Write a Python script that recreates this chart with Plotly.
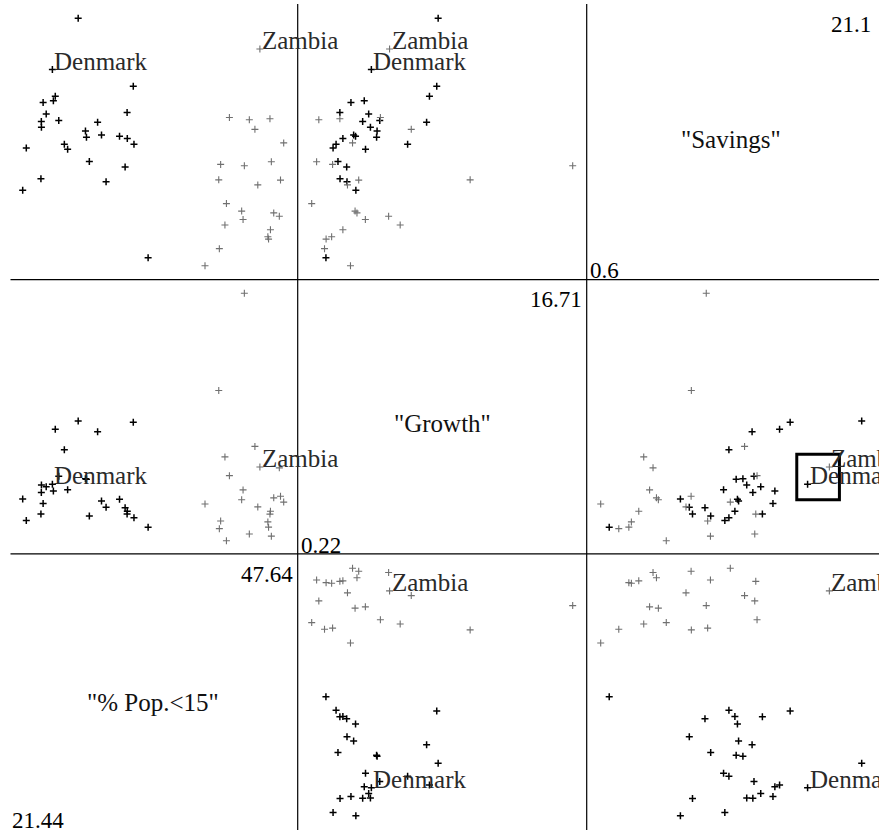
import plotly.graph_objects as go

# LifeCycleSavings: aggregate savings ratio, growth of disposable income, % population under 15
countries = [
    "Australia", "Austria", "Belgium", "Bolivia", "Brazil", "Canada", "Chile", "China",
    "Colombia", "Costa Rica", "Denmark", "Ecuador", "Finland", "France", "Germany",
    "Greece", "Guatamala", "Honduras", "Iceland", "India", "Ireland", "Italy", "Japan",
    "Korea", "Luxembourg", "Malta", "Norway", "Netherlands", "New Zealand", "Nicaragua",
    "Panama", "Paraguay", "Peru", "Philippines", "Portugal", "South Africa",
    "South Rhodesia", "Spain", "Sweden", "Switzerland", "Turkey", "Tunisia",
    "United Kingdom", "United States", "Venezuela", "Zambia", "Jamaica", "Uruguay",
    "Libya", "Malaysia",
]
savings = [
    11.43, 12.07, 13.17, 5.75, 12.88, 8.79, 0.60, 11.90, 4.98, 10.78, 16.85, 3.59,
    11.24, 12.64, 12.55, 10.67, 3.01, 7.70, 1.27, 9.00, 11.34, 14.28, 21.10, 3.98,
    10.35, 15.48, 10.25, 14.65, 10.67, 7.30, 4.44, 2.02, 12.70, 12.78, 12.49, 11.14,
    13.30, 11.77, 6.86, 14.13, 5.13, 2.81, 7.81, 7.56, 9.22, 18.56, 7.72, 9.24, 8.89,
    4.71,
]
pop15 = [
    29.35, 23.32, 23.80, 41.89, 42.19, 31.72, 39.74, 44.75, 46.64, 47.64, 24.42, 46.31,
    27.84, 25.06, 23.31, 25.62, 46.05, 47.32, 34.03, 41.31, 31.16, 24.52, 27.01, 41.74,
    21.80, 32.54, 25.95, 24.71, 32.61, 45.04, 43.56, 41.18, 44.19, 46.26, 28.96, 31.94,
    31.92, 27.74, 21.44, 23.49, 43.42, 46.12, 23.27, 29.81, 46.40, 45.25, 41.12, 28.13,
    43.69, 47.20,
]
growth = [
    2.87, 3.93, 3.82, 0.22, 4.56, 2.43, 2.67, 6.51, 3.08, 2.80, 3.99, 2.19, 4.32, 4.52,
    3.44, 6.28, 1.48, 3.19, 1.12, 1.54, 2.99, 3.54, 8.21, 5.81, 1.57, 8.12, 3.62, 7.66,
    1.76, 2.48, 3.61, 1.03, 0.67, 2.00, 7.48, 2.19, 2.00, 4.35, 3.01, 2.70, 2.96, 1.13,
    2.01, 2.45, 0.53, 5.14, 10.23, 1.88, 16.71, 5.08,
]

var_names = ['"Savings"', '"Growth"', '"% Pop.<15"']
var_data = [savings, growth, pop15]
row_vars = [0, 1, 2]          # top to bottom
col_vars = [2, 1, 0]          # left to right
labelled = ["Denmark", "Zambia"]
young_cut = 35.0              # countries with a young population drawn in grey

W, H = 879, 830
col_left = [22.7, 311.7, 600.7]
col_w = 261.0
row_top = [18.3, 293.3, 568.3]
row_h = 247.5
name_dy = [-3, 6, 10]         # vertical nudge of the variable names, per row
font_family = "Liberation Serif"

fig = go.Figure()
layout = {}


def fx(px):
    return px / W


def fy(py):
    return 1 - py / H


young = [p > young_cut for p in pop15]
panel = 0
for r, rv in enumerate(row_vars):
    for c, cv in enumerate(col_vars):
        panel += 1
        sfx = "" if panel == 1 else str(panel)
        xa, ya = "x" + sfx, "y" + sfx
        xd, yd = var_data[cv], var_data[rv]
        layout["xaxis" + sfx] = dict(
            domain=[fx(col_left[c]), fx(col_left[c] + col_w)],
            range=[min(xd), max(xd)], anchor=ya, visible=False, fixedrange=True,
        )
        layout["yaxis" + sfx] = dict(
            domain=[fy(row_top[r] + row_h), fy(row_top[r])],
            range=[min(yd), max(yd)], anchor=xa, visible=False, fixedrange=True,
        )
        if rv == cv:
            continue
        for grp, col, lw in [(False, "#000000", 1.5), (True, "#707070", 1.1)]:
            idx = [i for i in range(len(countries)) if young[i] == grp]
            fig.add_trace(go.Scatter(
                x=[xd[i] for i in idx], y=[yd[i] for i in idx],
                mode="markers", xaxis=xa, yaxis=ya, cliponaxis=False,
                marker=dict(symbol="cross-thin", size=5, color=col,
                            line=dict(color=col, width=lw)),
                hoverinfo="skip", showlegend=False,
            ))
        for name in labelled:
            i = countries.index(name)
            fig.add_annotation(
                x=xd[i], y=yd[i], xref=xa, yref=ya, text=name, showarrow=False,
                xanchor="left", yanchor="bottom", xshift=0, yshift=-7,
                font=dict(family=font_family, size=25, color="#2a2a2a"),
            )

# diagonal panels: variable name and its range
for r, rv in enumerate(row_vars):
    c = col_vars.index(rv)
    x0, x1 = col_left[c] - 14, col_left[c] + col_w + 14
    y0, y1 = row_top[r] - 13.5, row_top[r] + row_h + 13.5
    d = var_data[rv]
    fig.add_annotation(
        x=fx((x0 + x1) / 2), y=fy((y0 + y1) / 2 + name_dy[r]), xref="paper", yref="paper",
        text=var_names[rv], showarrow=False, xanchor="center", yanchor="middle",
        font=dict(family=font_family, size=25, color="#111111"),
    )
    fig.add_annotation(
        x=fx(x1 - 3), y=fy(y0 + 5), xref="paper", yref="paper",
        text=f"{max(d):g}", showarrow=False, xanchor="right", yanchor="top",
        font=dict(family=font_family, size=23, color="#000000"),
    )
    fig.add_annotation(
        x=fx(x0 + 1), y=fy(y1 + 6), xref="paper", yref="paper",
        text=f"{min(d):g}", showarrow=False, xanchor="left", yanchor="bottom",
        font=dict(family=font_family, size=23, color="#000000"),
    )

# panel separators
shapes = []
for xv in [297.7, 586.7]:
    shapes.append(dict(type="line", xref="paper", yref="paper",
                       x0=fx(xv), x1=fx(xv), y0=fy(4), y1=fy(H),
                       line=dict(color="#000000", width=1.2)))
for yv in [279.6, 553.9]:
    shapes.append(dict(type="line", xref="paper", yref="paper",
                       x0=fx(10.5), x1=fx(W), y0=fy(yv), y1=fy(yv),
                       line=dict(color="#000000", width=1.2)))
# brush rectangle in the Growth vs Savings panel
shapes.append(dict(type="rect", xref="x6", yref="y6",
                   x0=16.0, x1=19.35, y0=2.96, y1=5.99,
                   line=dict(color="#000000", width=3)))

fig.update_layout(
    **layout,
    shapes=shapes,
    width=W, height=H,
    margin=dict(l=0, r=0, t=0, b=0),
    paper_bgcolor="white", plot_bgcolor="white",
    showlegend=False,
)
fig.write_html("out.html", config={"displayModeBar": False})
